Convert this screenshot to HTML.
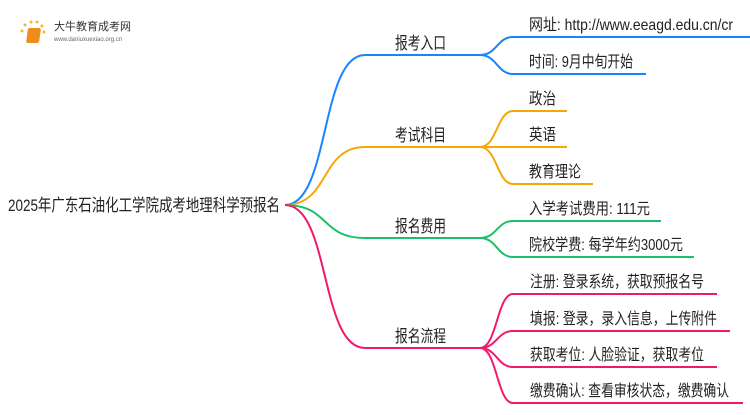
<!DOCTYPE html>
<html><head><meta charset="utf-8"><style>
body{margin:0;background:#fff;width:750px;height:410px;overflow:hidden}
svg text{font-family:"Liberation Sans","Noto Sans CJK SC",sans-serif;fill:#222}
</style></head><body>
<svg width="750" height="410" viewBox="0 0 750 410" xmlns="http://www.w3.org/2000/svg">
<g fill="none" stroke-width="2">
<path d="M285 205 C330 205 320 55 365 55 L480 55" stroke="#1a84ff"/>
<path d="M480 55 C497 55 497 37 513 37 L750 37" stroke="#1a84ff"/>
<path d="M480 55 C497 55 497 74 513 74 L646 74" stroke="#1a84ff"/>
<path d="M285 205 C330 205 320 147 365 147 L480 147" stroke="#f5a70a"/>
<path d="M480 147 C497 147 497 111 513 111 L567 111" stroke="#f5a70a"/>
<path d="M480 147 L567 147" stroke="#f5a70a"/>
<path d="M480 147 C497 147 497 184 513 184 L593 184" stroke="#f5a70a"/>
<path d="M285 205 C330 205 320 238 365 238 L480 238" stroke="#1dbf6a"/>
<path d="M480 238 C497 238 497 221 513 221 L661 221" stroke="#1dbf6a"/>
<path d="M480 238 C497 238 497 257 513 257 L694 257" stroke="#1dbf6a"/>
<path d="M285 205 C330 205 320 348 365 348 L480 348" stroke="#f0196e"/>
<path d="M480 348 C497 348 497 294 513 294 L717 294" stroke="#f0196e"/>
<path d="M480 348 C497 348 497 331 513 331 L730 331" stroke="#f0196e"/>
<path d="M480 348 C497 348 497 367 513 367 L717 367" stroke="#f0196e"/>
<path d="M480 348 C497 348 497 403 513 403 L743 403" stroke="#f0196e"/>
</g>
<g font-size="17" lengthAdjust="spacingAndGlyphs">
<text x="8" y="211" textLength="272" lengthAdjust="spacingAndGlyphs">2025年广东石油化工学院成考地理科学预报名</text>
<text x="395" y="49" textLength="51" lengthAdjust="spacingAndGlyphs">报考入口</text>
<text x="395" y="141" textLength="51" lengthAdjust="spacingAndGlyphs">考试科目</text>
<text x="395" y="232" textLength="51" lengthAdjust="spacingAndGlyphs">报名费用</text>
<text x="395" y="342" textLength="51" lengthAdjust="spacingAndGlyphs">报名流程</text>
</g>
<g font-size="16">
<text x="529" y="30" textLength="204" lengthAdjust="spacingAndGlyphs">网址: http://www.eeagd.edu.cn/cr</text>
<text x="529" y="67" textLength="104" lengthAdjust="spacingAndGlyphs">时间: 9月中旬开始</text>
<text x="529" y="104" textLength="27" lengthAdjust="spacingAndGlyphs">政治</text>
<text x="529" y="140" textLength="27" lengthAdjust="spacingAndGlyphs">英语</text>
<text x="529" y="177" textLength="52" lengthAdjust="spacingAndGlyphs">教育理论</text>
<text x="529" y="214" textLength="121" lengthAdjust="spacingAndGlyphs">入学考试费用: 111元</text>
<text x="529" y="250" textLength="154" lengthAdjust="spacingAndGlyphs">院校学费: 每学年约3000元</text>
<text x="530" y="287" textLength="174" lengthAdjust="spacingAndGlyphs">注册: 登录系统，获取预报名号</text>
<text x="530" y="324" textLength="187" lengthAdjust="spacingAndGlyphs">填报: 登录，录入信息，上传附件</text>
<text x="530" y="360" textLength="174" lengthAdjust="spacingAndGlyphs">获取考位: 人脸验证，获取考位</text>
<text x="530" y="396" textLength="199" lengthAdjust="spacingAndGlyphs">缴费确认: 查看审核状态，缴费确认</text>
</g>
<g>
<circle cx="22" cy="31" r="1.5" fill="#f7b733"/><circle cx="25" cy="25" r="1.5" fill="#f7b733"/><circle cx="31" cy="22" r="1.5" fill="#f7b733"/><circle cx="37" cy="22" r="1.5" fill="#f7b733"/><circle cx="42" cy="26" r="1.5" fill="#f7b733"/><circle cx="44" cy="32" r="1.5" fill="#f7b733"/>
<rect x="32" y="28" width="13" height="15" rx="2" fill="#f08c1a" transform="skewX(-8)"/>
<text x="54" y="30" font-size="11" style="fill:#333">大牛教育成考网</text>
<text x="54" y="41" font-size="6" style="fill:#666">www.daniuxuexiao.org.cn</text>
</g>
</svg>
</body></html>
